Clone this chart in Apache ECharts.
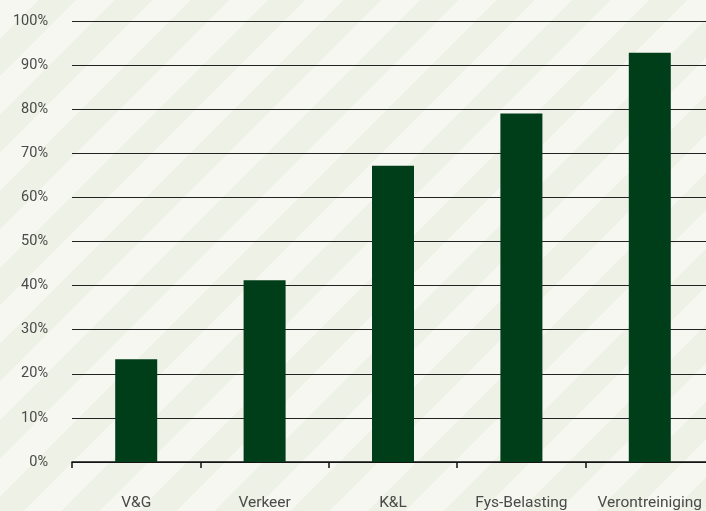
<!DOCTYPE html>
<html>
<head>
<meta charset="utf-8">
<script src="https://cdn.jsdelivr.net/npm/echarts@6/dist/echarts.min.js"></script>
<style>
  html, body { margin: 0; padding: 0; overflow: hidden; }
  body {
    width: 706px;
    height: 511px;
    background: repeating-linear-gradient(135deg, #f6f7f0 0px, #f6f7f0 27px, #eef1e5 27px, #eef1e5 54px);
  }
  /* plot runs past the right edge of the window, as in the original */
  #chart { width: 714px; height: 511px; }
</style>
</head>
<body>
<div id="chart"></div>
<script>
// categories and values (percent)
var categories = ['V&G', 'Verkeer', 'K&L', 'Fys-Belasting', 'Verontreiniging']
var values = [23.3, 41.2, 67.2, 79.0, 92.8]
var yTicks = { min: 0, max: 100, interval: 10 }

var chart = echarts.init(document.getElementById('chart'))
chart.setOption({
  animation: false,
  backgroundColor: 'transparent',
  textStyle: { fontFamily: 'Roboto' },
  grid: { left: 72, right: 0, top: 21, bottom: 48, containLabel: false },
  xAxis: {
    type: 'category',
    data: categories,
    axisLine: { lineStyle: { color: '#111', width: 1.5 } },
    axisTick: { show: true, interval: 0, length: 6, lineStyle: { color: '#111', width: 1.5 } },
    axisLabel: { interval: 0, color: '#4a4a4a', fontSize: 15.5, margin: 33 }
  },
  yAxis: {
    type: 'value',
    min: yTicks.min,
    max: yTicks.max,
    interval: yTicks.interval,
    axisLine: { show: false },
    axisTick: { show: false },
    axisLabel: { color: '#4a4a4a', fontSize: 14.5, margin: 24, formatter: '{value}%' },
    splitLine: { lineStyle: { color: '#222', width: 1.2 } }
  },
  series: [
    {
      type: 'bar',
      data: values,
      barWidth: 42,
      itemStyle: { color: '#003d19' }
    }
  ]
})
</script>
</body>
</html>
